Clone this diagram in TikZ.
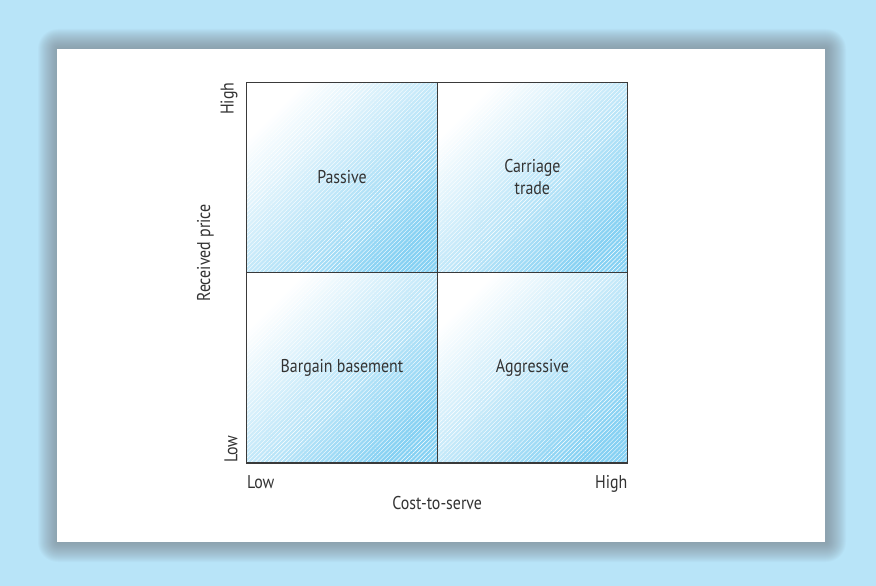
\documentclass[tikz,border=0pt]{standalone}
\usepackage{fontspec}
\setmainfont{PT Sans}[FakeStretch=0.86]
\usetikzlibrary{positioning,patterns.meta}
\definecolor{PageBlue}{HTML}{B8E4F8}
\definecolor{CellBlue}{HTML}{86D1F3}
\definecolor{CellMid}{HTML}{BCE4F7}
\definecolor{GridGrey}{HTML}{3A3A3A}
\definecolor{TextGrey}{HTML}{333333}
\definecolor{ShadowGrey}{HTML}{7A8088}
\tikzset{every node/.style={font=\fontsize{18.5}{22}\selectfont,text=TextGrey},
 cell/.style={minimum size=190pt,inner sep=0pt,align=center,shading=axis,
 top color=white,middle color=CellMid,bottom color=CellBlue,shading angle=45,
 postaction={pattern={Lines[angle=45,distance=3pt,line width=.4pt]},
 pattern color=white,fill opacity=.07}},
 axlabel/.style={inner sep=0pt}}

\begin{document}
\begin{tikzpicture}[x=1pt,y=-1pt]
\useasboundingbox (0,0) rectangle (876,586);
\fill[PageBlue] (0,0) rectangle (876,586);
% soft shadow round the panel
\foreach \r in {1,...,20}
 {\fill[ShadowGrey,opacity=.045,rounded corners=\r pt]
 (58-\r,49-\r) rectangle (826+\r,542+\r);}
\fill[white] (57,49) rectangle (825,542);
% the four quadrants
\node[cell] (passive) at (342,177.5) {Passive};
\node[cell,right=0pt of passive] (carriage) {Carriage\\trade};
\node[cell,below=0pt of passive] (bargain) {Bargain basement};
\node[cell,right=0pt of bargain] (aggressive) {Aggressive};
\draw[GridGrey,line width=1.3pt] (passive.north west) rectangle (aggressive.south east);
\draw[GridGrey,line width=1.3pt] (passive.north east)--(bargain.south east);
\draw[GridGrey,line width=1.3pt] (passive.south west)--(carriage.south east);
% axes
\node[axlabel,rotate=90,anchor=south east] (yhigh) at ([xshift=-9pt]passive.north west) {High};
\node[axlabel,rotate=90,anchor=south west] (ylow) at ([xshift=-9pt]bargain.south west) {Low};
\node[axlabel,rotate=90,anchor=base] (yname) at (210,253) {Received price};
\node[axlabel,anchor=base west] (xlow) at ([yshift=-25pt]bargain.south west) {Low};
\node[axlabel,anchor=base east] (xhigh) at ([yshift=-25pt]aggressive.south east) {High};
\node[axlabel,anchor=base] (xname) at ([yshift=-46pt]bargain.south east) {Cost-to-serve};
\end{tikzpicture}
\end{document}
